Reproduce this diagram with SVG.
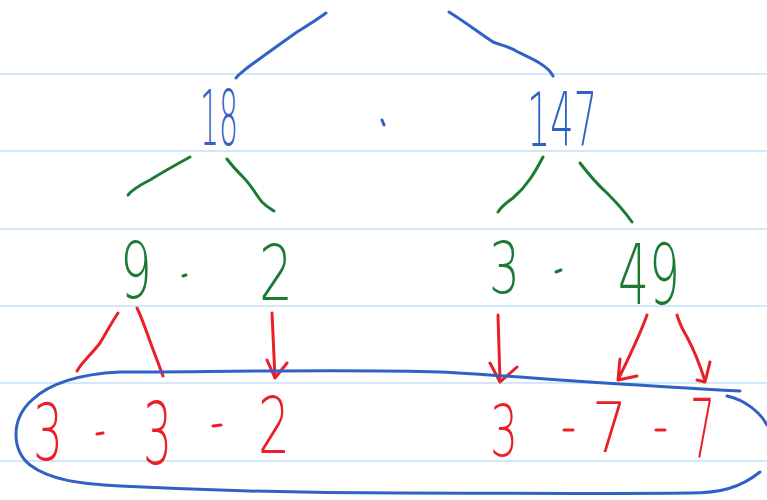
<svg xmlns="http://www.w3.org/2000/svg" width="767" height="500" viewBox="0 0 767 500">
  <style>
    .rule { stroke: #d2e8f8; stroke-width: 2; }
    .ink { fill: none; stroke-width: 3; stroke-linecap: round; stroke-linejoin: round; }
    .blue { stroke: #2f62c4; }
    .green { stroke: #1c7a34; }
    .red { stroke: #ea1f28; }
    .num { font-family: "DejaVu Sans", "Liberation Sans", sans-serif; font-weight: 200; }
    .tb { fill: #2f62c4; }
    .tg { fill: #1c7a34; }
    .tr { fill: #ea1f28; }
  </style>
  <rect width="767" height="500" fill="#ffffff"/>

  <!-- ruled paper lines -->
  <g id="paper">
    <line class="rule" x1="0" y1="74" x2="767" y2="74"/>
    <line class="rule" x1="0" y1="151" x2="767" y2="151"/>
    <line class="rule" x1="0" y1="229" x2="767" y2="229"/>
    <line class="rule" x1="0" y1="306" x2="767" y2="306"/>
    <line class="rule" x1="0" y1="383" x2="767" y2="383"/>
    <line class="rule" x1="0" y1="461" x2="767" y2="461"/>
  </g>

  <!-- branches and arrows -->
  <g id="connectors">
    <path class="ink blue" d="M326,13 C315,21 305,27 297,32 C280,44 262,57 247,68 C242,72 238,75 236,78"/>
    <path class="ink blue" d="M449,12 C465,22 478,32 493,42 C503,46 508,46 518,52 C535,60 548,66 553,76"/>

    <path class="ink green" d="M190,157 C170,168 158,175 150,180 C140,185 132,190 128,195"/>
    <path class="ink green" d="M227,159 C233,167 238,172 243,177 C252,186 256,195 262,202 C267,207 271,209 274,211"/>
    <path class="ink green" d="M543,157 C535,172 528,185 513,198 C506,203 501,207 498,212"/>
    <path class="ink green" d="M580,163 C590,176 598,185 607,193 C617,203 625,212 632,222"/>

    <path class="ink red" d="M118,313 C110,325 105,335 100,343 C90,356 82,362 77,371"/>
    <path class="ink red" d="M137,308 C141,316 144,325 147,333 C153,350 158,362 163,376"/>
    <path class="ink red" d="M272,313 L275,378 M267,360 L275,378 L287,363"/>
    <path class="ink red" d="M498,315 L500,382 M490,363 L500,382 L517,367"/>
    <path class="ink red" d="M647,315 C640,335 630,355 618,380 M620,359 L618,380 L637,376"/>
    <path class="ink red" d="M677,315 C680,325 684,332 687,337 C695,352 700,365 705,381 M710,362 L705,382 L697,380"/>
  </g>

  <!-- loop around the prime factors -->
  <g id="loop">
    <path class="ink blue" d="M740,391 C680,388 620,384 560,380 C520,377 480,374 440,372 C350,369 200,372 120,372 C80,374 50,383 32,400 C10,420 12,450 30,465 C50,480 80,484 120,486 C200,490 300,493 400,493 C500,493 600,494 690,493 C720,493 740,488 760,472"/>
    <path class="ink blue" d="M727,396 C745,400 760,412 767,425"/>
  </g>

  <g id="n18">
    <text class="num tb" x="200" y="145" font-size="76" textLength="38" lengthAdjust="spacingAndGlyphs">18</text>
  </g>
  <g id="dot-top">
    <path class="ink blue" d="M382,120 L384,125"/>
  </g>
  <g id="n147">
    <text class="num tb" x="527" y="146" font-size="74" textLength="70" lengthAdjust="spacingAndGlyphs">147</text>
  </g>

  <g id="n9">
    <text class="num tg" x="120" y="298" font-size="78" textLength="32" lengthAdjust="spacingAndGlyphs">9</text>
  </g>
  <g id="dot-9-2">
    <path class="ink green" d="M183,276 L186,275"/>
  </g>
  <g id="n2">
    <text class="num tg" x="259" y="300" font-size="76" textLength="34" lengthAdjust="spacingAndGlyphs">2</text>
  </g>
  <g id="n3">
    <text class="num tg" x="489" y="293" font-size="72" textLength="31" lengthAdjust="spacingAndGlyphs">3</text>
  </g>
  <g id="dot-3-49">
    <path class="ink green" d="M556,272 L561,270"/>
  </g>
  <g id="n49">
    <text class="num tg" x="618" y="304" font-size="84" textLength="62" lengthAdjust="spacingAndGlyphs">49</text>
  </g>

  <g id="p3a">
    <text class="num tr" x="33" y="460" font-size="78" textLength="30" lengthAdjust="spacingAndGlyphs">3</text>
  </g>
  <g id="dot-a">
    <path class="ink red" d="M97,434 L103,433"/>
  </g>
  <g id="p3b">
    <text class="num tr" x="143" y="464" font-size="86" textLength="29" lengthAdjust="spacingAndGlyphs">3</text>
  </g>
  <g id="dot-b">
    <path class="ink red" d="M213,426 L221,425"/>
  </g>
  <g id="p2">
    <text class="num tr" x="258" y="453" font-size="78" textLength="32" lengthAdjust="spacingAndGlyphs">2</text>
  </g>
  <g id="p3c">
    <text class="num tr" x="490" y="456" font-size="72" textLength="28" lengthAdjust="spacingAndGlyphs">3</text>
  </g>
  <g id="dot-c">
    <path class="ink red" d="M564,430 L573,430"/>
  </g>
  <g id="p7a">
    <text class="num tr" x="592" y="452" font-size="70" textLength="35" lengthAdjust="spacingAndGlyphs">7</text>
  </g>
  <g id="dot-d">
    <path class="ink red" d="M656,430 L665,430"/>
  </g>
  <g id="p7b">
    <text class="num tr" x="690" y="458" font-size="82" textLength="25" lengthAdjust="spacingAndGlyphs">7</text>
  </g>
</svg>
